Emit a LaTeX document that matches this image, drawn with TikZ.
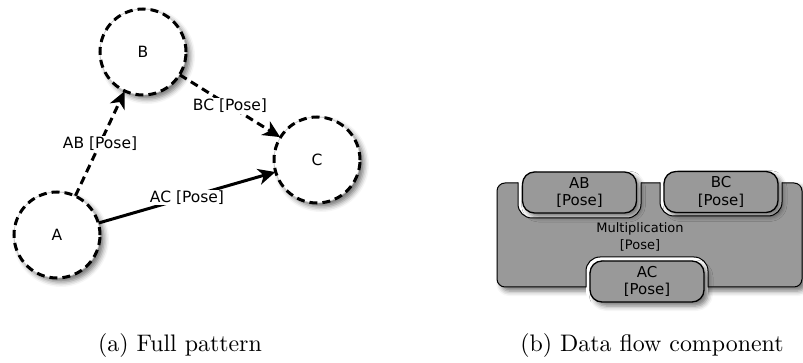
\documentclass[tikz,border=0pt]{standalone}
\usepackage{fontspec}
\newfontfamily\lblfont{DejaVu Sans}
\usetikzlibrary{arrows.meta,shadows.blur}
\definecolor{boxgray}{RGB}{153,153,153}
\pgfdeclarelayer{bg}
\pgfsetlayers{bg,main}

\begin{document}
\begin{tikzpicture}[x=1pt,y=-1pt,
  softshadow/.style={blur shadow={shadow xshift=4pt, shadow yshift=-4pt,
      shadow blur radius=5pt, shadow opacity=55}},
  state/.style={circle, minimum size=86pt, inner sep=0pt, fill=white,
      draw=gray!45, line width=0.7pt, softshadow,
      postaction={draw=black, line width=3pt, dash pattern=on 8pt off 5pt},
      font=\lblfont\fontsize{15.5}{18}\selectfont},
  tip/.style={-{Stealth[length=17pt,width=16pt,inset=5pt]}},
  flow/.style={draw=black, line width=3pt, tip},
  dashedflow/.style={flow, dash pattern=on 8pt off 5pt},
  edgeshade/.style={draw=black, opacity=0.18, line width=6pt, tip,
      transform canvas={xshift=3pt, yshift=-3pt}},
  lbl/.style={fill=white, inner sep=1pt, font=\lblfont\fontsize{15.5}{18}\selectfont},
  subbox/.style={rectangle, rounded corners=12pt, minimum width=114pt,
      minimum height=41pt, inner sep=0pt, fill=boxgray, draw=black,
      line width=1.3pt, align=center, softshadow,
      font=\lblfont\fontsize{15}{17.5}\selectfont},
  notch/.style={rounded corners=14pt},
  caption/.style={anchor=base, scale=2.39, font=\rmfamily\fontsize{10}{12}\selectfont}
]
\useasboundingbox (0,0) rectangle (803,363);

% ---- (a) full pattern ----
\node[state] (A) at (57,235) {A};
\node[state] (B) at (143,52) {B};
\node[state] (C) at (317,160) {C};

\begin{pgfonlayer}{bg}
  \draw[edgeshade] (A) -- (B);
  \draw[edgeshade] (B) -- (C);
  \draw[edgeshade] (A) -- (C);
\end{pgfonlayer}

\draw[dashedflow] (A) -- node[lbl] {AB [Pose]} (B);
\draw[dashedflow] (B) -- node[lbl] {BC [Pose]} (C);
\draw[flow] (A) -- node[lbl] {AC [Pose]} (C);

% ---- (b) data flow component ----
\node[rectangle, rounded corners=8pt, minimum width=305pt, minimum height=104pt,
      fill=boxgray, draw=black, line width=1pt, softshadow] (mult) at (649.5,235) {};
% openings that hold the input and output ports
\fill[white, notch] (518,168) rectangle (641,218);
\fill[white, notch] (660,168) rectangle (782,216);
\fill[white, notch] (586,257) rectangle (708,305);
\begin{scope}
  \clip[rounded corners=8pt] (mult.north west) rectangle (mult.south east);
  \draw[line width=1pt, notch] (518,168) rectangle (641,218);
  \draw[line width=1pt, notch] (660,168) rectangle (782,216);
  \draw[line width=1pt, notch] (586,257) rectangle (708,305);
\end{scope}
\node[font=\lblfont\fontsize{13}{17}\selectfont, align=center] (multlabel)
  at (640,236.5) {Multiplication\\{[Pose]}};

\node[subbox] (ab) at (579.5,192.5) {AB\\{[Pose]}};
\node[subbox] (bc) at (721,192) {BC\\{[Pose]}};
\node[subbox] (ac) at (647,281.5) {AC\\{[Pose]}};

% ---- captions ----
\node[caption] (capa) at (180,351) {(a) Full pattern};
\node[caption] (capb) at (652,351) {(b) Data flow component};
\end{tikzpicture}
\end{document}
